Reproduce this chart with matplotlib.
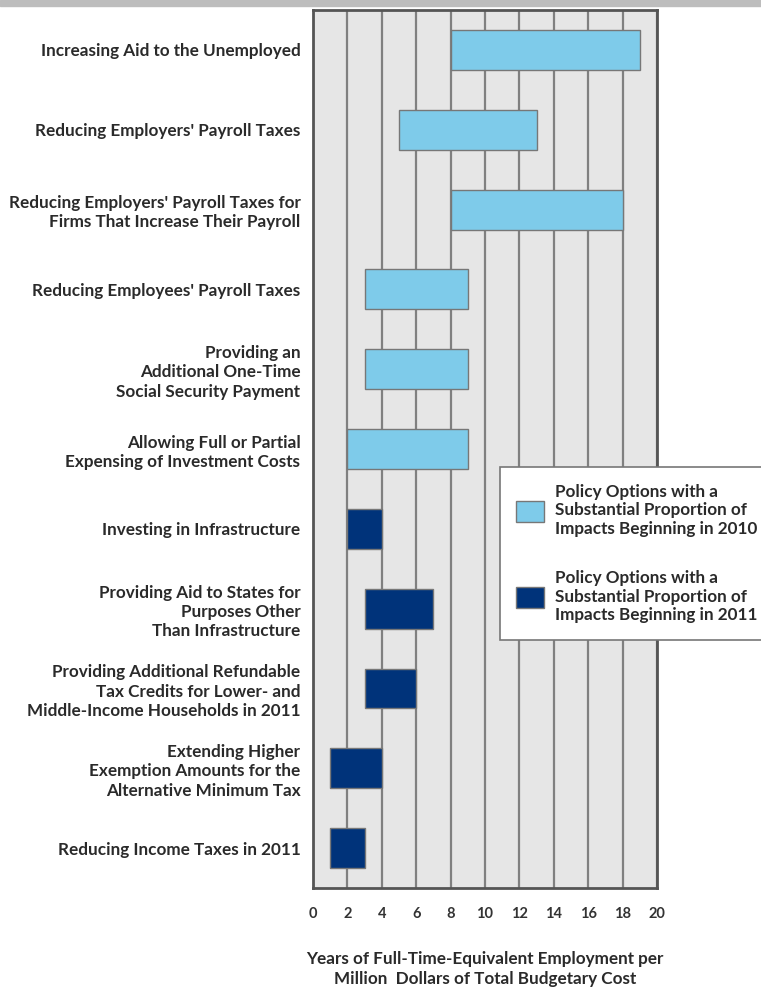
import matplotlib.pyplot as plt
from matplotlib.patches import Patch, Rectangle

# Policy options, top to bottom
labels = [
    "Increasing Aid to the Unemployed",
    "Reducing Employers' Payroll Taxes",
    "Reducing Employers' Payroll Taxes for\nFirms That Increase Their Payroll",
    "Reducing Employees' Payroll Taxes",
    "Providing an\nAdditional One-Time\nSocial Security Payment",
    "Allowing Full or Partial\nExpensing of Investment Costs",
    "Investing in Infrastructure",
    "Providing Aid to States for\nPurposes Other\nThan Infrastructure",
    "Providing Additional Refundable\nTax Credits for Lower- and\nMiddle-Income Households in 2011",
    "Extending Higher\nExemption Amounts for the\nAlternative Minimum Tax",
    "Reducing Income Taxes in 2011",
]
low = [8, 5, 8, 3, 3, 2, 2, 3, 3, 1, 1]
high = [19, 13, 18, 9, 9, 9, 4, 7, 6, 4, 3]
group = [2010, 2010, 2010, 2010, 2010, 2010, 2011, 2011, 2011, 2011, 2011]
xticks = [0, 2, 4, 6, 8, 10, 12, 14, 16, 18, 20]

colors = {2010: '#7ecbea', 2011: '#00337a'}
font = ['Lato', 'DejaVu Sans']

fig = plt.figure(figsize=(7.61, 9.90), dpi=100)
ax = fig.add_axes([0.4113, 0.1030, 0.4520, 0.8869])
ax.set_facecolor('#e6e6e6')

# top grey strip
fig.patches.append(Rectangle((0, 0.9939), 1, 0.0061, transform=fig.transFigure,
                             color='#bdbdbd', zorder=0))

ax.set_axisbelow(True)
ax.grid(axis='x', color='#808080', linewidth=1.6)
ax.grid(axis='y', visible=False)

ypos = list(range(len(labels)))
widths = [h - l for l, h in zip(low, high)]
ax.barh(ypos, widths, left=low, height=0.5,
        color=[colors[g] for g in group], edgecolor='#777777', linewidth=1.0, zorder=3)

ax.set_xlim(0, 20)
ax.set_ylim(len(labels) - 0.5, -0.5)
ax.set_xticks(xticks)
ax.set_xticklabels([str(t) for t in xticks], family=font, fontweight='bold',
                   fontsize=10.5, color='#333333')
ax.set_yticks(ypos)
ax.set_yticklabels(labels, family=font, fontweight='bold', fontsize=12.3,
                   color='#2a2a2a', linespacing=1.25)
ax.tick_params(axis='both', length=0)
ax.tick_params(axis='x', pad=14)
ax.tick_params(axis='y', pad=9)

for s in ax.spines.values():
    s.set_color('#555555')
    s.set_linewidth(2)

ax.set_xlabel("Years of Full-Time-Equivalent Employment per\nMillion  Dollars of Total Budgetary Cost",
              family=font, fontweight='bold', fontsize=12.3, color='#2a2a2a',
              labelpad=21, linespacing=1.35)

handles = [Patch(facecolor=colors[2010], edgecolor='#777777'),
           Patch(facecolor=colors[2011], edgecolor='#777777')]
leg_labels = ["Policy Options with a\nSubstantial Proportion of\nImpacts Beginning in 2010",
              "Policy Options with a\nSubstantial Proportion of\nImpacts Beginning in 2011"]
leg = fig.legend(handles, leg_labels, loc='upper left', bbox_to_anchor=(0.657, 0.528),
                 frameon=True, fancybox=False, framealpha=1, edgecolor='#777777',
                 prop={'family': font, 'weight': 'bold', 'size': 12.3},
                 handlelength=1.65, handleheight=1.5, handletextpad=0.6,
                 labelspacing=1.9, borderpad=0.95, borderaxespad=0)
leg.get_frame().set_linewidth(1.2)
for t in leg.get_texts():
    t.set_color('#2a2a2a')
    t.set_linespacing(1.22)

plt.savefig('out.png', dpi=100)
